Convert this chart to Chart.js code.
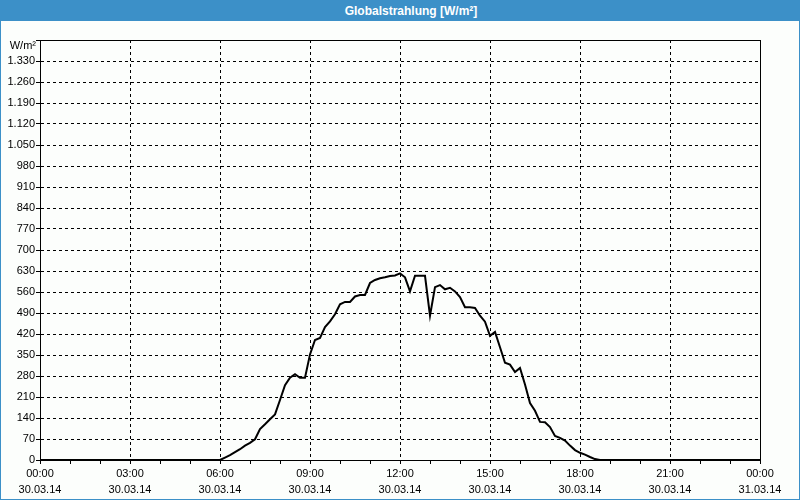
<!DOCTYPE html>
<html>
<head>
<meta charset="utf-8">
<script src="https://cdn.jsdelivr.net/npm/chart.js@4/dist/chart.umd.min.js"></script>
<style>
  html, body { margin: 0; padding: 0; overflow: hidden; }
  #frame {
    position: absolute; left: 0; top: 0; width: 800px; height: 500px;
    box-sizing: border-box; border: 1px solid #3c90c8; background: #fcfefc;
  }
  #titlebar {
    position: absolute; left: 0; top: 0; width: 800px; height: 21px;
    box-sizing: border-box; padding-left: 22px;
    background: #3c90c8; color: #ffffff; text-align: center;
    font: bold 12px "Liberation Sans", Arial, sans-serif; line-height: 22px;
  }
  #chart { position: absolute; left: 0; top: 0; }
</style>
</head>
<body>
<div id="frame"></div>
<div id="titlebar">Globalstrahlung [W/m²]</div>
<canvas id="chart" width="800" height="500"></canvas>
<script>
// Messzeiten (30.03.14) und Globalstrahlung in W/m²
const times = [
  '00:00',
  '06:00', '06:10', '06:20', '06:30', '06:40', '06:50',
  '07:00', '07:10', '07:20', '07:30', '07:40', '07:50',
  '08:00', '08:10', '08:20', '08:30', '08:40', '08:50',
  '09:00', '09:10', '09:20', '09:30', '09:40', '09:50',
  '10:00', '10:10', '10:20', '10:30', '10:40', '10:50',
  '11:00', '11:10', '11:20', '11:30', '11:40', '11:50',
  '12:00', '12:10', '12:20', '12:30', '12:40', '12:50',
  '13:00', '13:10', '13:20', '13:30', '13:40', '13:50',
  '14:00', '14:10', '14:20', '14:30', '14:40', '14:50',
  '15:00', '15:10', '15:20', '15:30', '15:40', '15:50',
  '16:00', '16:10', '16:20', '16:30', '16:40', '16:50',
  '17:00', '17:10', '17:20', '17:30', '17:40', '17:50',
  '18:00', '18:10', '18:20', '18:30', '18:40',
  '24:00'
];
const radiation = [
  0,
  0, 8, 16, 26, 36, 48,
  57, 69, 103, 119, 136, 152,
  200, 249, 274, 286, 274, 274,
  352, 400, 407, 443, 462, 486,
  519, 527, 527, 545, 550, 550,
  590, 600, 606, 609, 613, 615,
  622, 609, 562, 614, 614, 614,
  481, 576, 583, 569, 574, 562,
  543, 509, 509, 507, 481, 461,
  414, 427, 376, 324, 318, 293,
  307, 252, 190, 164, 127, 126,
  110, 80, 74, 65, 48, 33,
  24, 18, 10, 3, 0,
  0
];
const xTickTimes = ['00:00', '03:00', '06:00', '09:00', '12:00', '15:00', '18:00', '21:00', '00:00'];
const xTickDates = ['30.03.14', '30.03.14', '30.03.14', '30.03.14', '30.03.14', '30.03.14', '30.03.14', '30.03.14', '31.03.14'];

const points = times.map((t, i) => {
    const parts = t.split(':');
    return { x: Number(parts[0]) + Number(parts[1]) / 60, y: radiation[i] };
});

function formatDe(v) {
    const s = String(v);
    return v >= 1000 ? s.slice(0, s.length - 3) + '.' + s.slice(-3) : s;
}

const frameBox = {
    id: 'frameBox',
    afterDraw(chart) {
        const ctx = chart.ctx;
        const a = chart.chartArea;
        ctx.save();
        ctx.strokeStyle = '#000000';
        ctx.lineWidth = 1;
        ctx.strokeRect(Math.round(a.left) + 0.5, Math.round(a.top) + 0.5,
                       Math.round(a.right - a.left), Math.round(a.bottom - a.top));
        ctx.fillStyle = '#000000';
        ctx.font = '11px "Liberation Sans", Arial, sans-serif';
        ctx.textAlign = 'right';
        ctx.textBaseline = 'middle';
        ctx.fillText('W/m²', a.left - 4, a.top + 6);
        ctx.restore();
    }
};

const tickFont = { family: '"Liberation Sans", Arial, sans-serif', size: 11, lineHeight: 1.45 };

new Chart(document.getElementById('chart'), {
    type: 'line',
    data: {
        datasets: [{
            data: points,
            borderColor: '#000000',
            borderWidth: 2,
            pointRadius: 0,
            tension: 0,
            fill: false
        }]
    },
    options: {
        responsive: false,
        animation: false,
        layout: { padding: { left: 0, top: 40, right: 40, bottom: 0 } },
        plugins: { legend: { display: false }, tooltip: { enabled: false } },
        scales: {
            x: {
                type: 'linear',
                min: 0, max: 24,
                afterFit: scale => { scale.height = 40; },
                border: { color: '#000000', width: 1, dash: [3, 3] },
                grid: {
                    color: c => (c.tick && c.tick.value % 3 === 0) ? '#000000' : 'rgba(0,0,0,0)',
                    tickColor: '#000000',
                    tickLength: 4,
                    lineWidth: 1
                },
                ticks: {
                    stepSize: 1,
                    autoSkip: false,
                    maxRotation: 0,
                    padding: 2,
                    color: '#000000',
                    font: tickFont,
                    callback: v => v % 3 === 0 ? [xTickTimes[v / 3], xTickDates[v / 3]] : ''
                }
            },
            y: {
                min: 0, max: 1400,
                afterFit: scale => { scale.width = 40; },
                border: { color: '#000000', width: 1, dash: [3, 3] },
                grid: { color: '#000000', tickColor: '#000000', tickLength: 4, lineWidth: 1 },
                ticks: {
                    stepSize: 70,
                    autoSkip: false,
                    padding: 1,
                    color: '#000000',
                    font: tickFont,
                    callback: v => v === 1400 ? '' : formatDe(v)
                }
            }
        }
    },
    plugins: [frameBox]
});
</script>
</body>
</html>
